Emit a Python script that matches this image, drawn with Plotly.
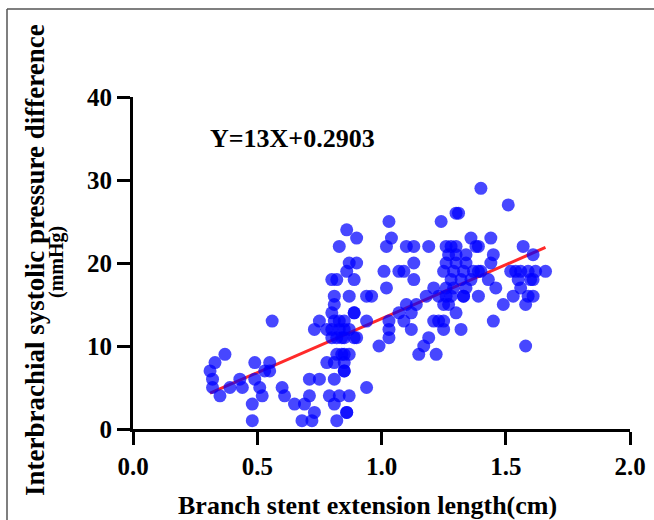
import plotly.graph_objects as go

# ---- data ----
length_cm = [
    0.31, 0.33, 0.37, 0.32, 0.32, 0.35, 0.39, 0.43, 0.44, 0.48, 0.48, 0.49, 0.49, 0.51, 0.52, 0.53,
    0.56, 0.55, 0.55, 0.60, 0.61, 0.65, 0.69, 0.68, 0.72, 0.71, 0.73, 0.71, 0.75, 0.73, 0.75,
    0.86, 0.90, 0.83, 0.87, 0.90, 0.86, 0.80, 0.82, 0.89, 0.81, 0.87, 0.94, 0.96, 0.81, 0.80,
    0.81, 0.89, 0.78, 0.80, 0.83, 0.87, 0.80, 0.84, 0.89, 0.90, 0.94, 0.99, 0.82, 0.85, 0.87,
    0.78, 0.81, 0.85, 0.85, 0.81, 0.94, 0.79, 0.83, 0.87, 0.81, 0.86, 0.82,
    0.83, 0.85, 0.82, 0.85, 0.89, 0.85, 0.86, 0.84, 0.85,
    1.03, 1.04, 1.02, 1.10, 1.13, 1.19, 1.26, 1.28, 1.30, 1.24, 1.30, 1.31, 1.27, 1.13, 1.26,
    1.30, 1.34, 1.01, 1.07, 1.09, 1.25, 1.29, 1.13, 1.28, 1.32, 1.02, 1.21, 1.26, 1.29, 1.18,
    1.23, 1.26, 1.28, 1.10, 1.14, 1.25, 1.27, 1.07, 1.12, 1.30, 1.03, 1.09, 1.21, 1.23, 1.25,
    1.03, 1.12, 1.25, 1.32, 1.03, 1.19, 1.17, 1.15, 1.22,
    1.40, 1.51, 1.36, 1.44, 1.38, 1.39, 1.57, 1.34, 1.45, 1.61, 1.44, 1.33, 1.37, 1.39, 1.40,
    1.52, 1.54, 1.56, 1.59, 1.62, 1.66, 1.36, 1.43, 1.55, 1.60, 1.61, 1.34, 1.46, 1.56, 1.33,
    1.39, 1.53, 1.59, 1.61, 1.49, 1.58, 1.45, 1.58, 1.30, 1.33,
]
pressure_diff = [
    7, 8, 9, 6, 5, 4, 5, 6, 5, 3, 1, 8, 6, 5, 4, 7,
    13, 8, 7, 5, 4, 3, 3, 1, 1, 4, 2, 6, 6, 12, 13,
    24, 23, 22, 20, 20, 19, 18, 18, 18, 16, 16, 16, 16, 15, 14,
    13, 14, 12, 12, 12, 12, 11, 11, 11, 11, 13, 10, 9, 9, 9,
    8, 8, 8, 7, 6, 5, 4, 4, 4, 3, 2, 1,
    13, 12, 11, 11, 14, 7, 2, 9, 13,
    25, 23, 22, 22, 22, 22, 22, 22, 22, 25, 26, 26, 21, 20, 20,
    20, 20, 19, 19, 19, 19, 19, 18, 18, 18, 17, 17, 17, 17, 16,
    16, 16, 16, 15, 15, 15, 15, 14, 14, 14, 13, 13, 13, 13, 13,
    12, 12, 12, 12, 11, 11, 10, 9, 9,
    29, 27, 23, 23, 22, 22, 22, 21, 21, 21, 20, 19, 19, 19, 19,
    19, 19, 19, 19, 19, 19, 18, 18, 18, 18, 18, 17, 17, 17, 16,
    16, 16, 16, 16, 15, 15, 13, 10, 21, 16,
]

slope = 13.0
intercept = 0.2903
fit_x = [min(length_cm), max(length_cm)]
fit_y = [slope * v + intercept for v in fit_x]

x_ticks = [0.0, 0.5, 1.0, 1.5, 2.0]
x_tick_labels = ["0.0", "0.5", "1.0", "1.5", "2.0"]
y_ticks = [0, 10, 20, 30, 40]
y_tick_labels = ["0", "10", "20", "30", "40"]

equation_text = "Y=13X+0.2903"
x_title = "Branch stent extension length(cm)"
y_title_1 = "Interbrachial systolic pressure difference"
y_title_2 = "(mmHg)"

# ---- figure ----
W, H = 654, 520
ML, MR, MT, MB = 133, 24, 97, 91
PW, PH = W - ML - MR, H - MT - MB


def px(xp):
    return (xp - ML) / PW


def py(yp):
    return (H - MB - yp) / PH


FONT = dict(family="Liberation Serif, Times New Roman, serif", color="black", weight="bold")

fig = go.Figure()
fig.add_trace(go.Scatter(
    x=fit_x, y=fit_y, mode="lines",
    line=dict(color="#ff2a2a", width=3),
    hoverinfo="skip", showlegend=False,
))
fig.add_trace(go.Scatter(
    x=length_cm, y=pressure_diff, mode="markers",
    marker=dict(color="rgba(0,0,255,0.72)", size=13, line=dict(width=0)),
    showlegend=False, cliponaxis=False,
))

axis_common = dict(
    showline=True, linecolor="black", linewidth=3,
    ticks="outside", ticklen=13, tickwidth=3, tickcolor="black",
    showgrid=False, zeroline=False,
    tickfont=dict(size=25, **FONT),
)
fig.update_xaxes(range=[0, 2], tickvals=x_ticks, ticktext=x_tick_labels, **axis_common)
fig.update_yaxes(range=[0, 40], tickvals=y_ticks, ticktext=y_tick_labels, **axis_common)

fig.add_annotation(text=equation_text, xref="paper", yref="paper",
                   x=px(292), y=py(138), xanchor="center", yanchor="middle",
                   showarrow=False, font=dict(size=26, **FONT))
fig.add_annotation(text=x_title, xref="paper", yref="paper",
                   x=px(367), y=py(505), xanchor="center", yanchor="middle",
                   showarrow=False, font=dict(size=26, **FONT))
fig.add_annotation(text=y_title_1, xref="paper", yref="paper", textangle=-90,
                   x=px(35), y=py(260), xanchor="center", yanchor="middle",
                   showarrow=False, font=dict(size=27, **FONT))
fig.add_annotation(text=y_title_2, xref="paper", yref="paper", textangle=-90,
                   x=px(56), y=py(262), xanchor="center", yanchor="middle",
                   showarrow=False, font=dict(size=20, **FONT))

# outer frame (cropped figure border)
fig.add_shape(type="line", xref="paper", yref="paper",
              x0=px(7), y0=py(9), x1=px(W + 10), y1=py(9),
              line=dict(color="#555555", width=1.5))
fig.add_shape(type="line", xref="paper", yref="paper",
              x0=px(7), y0=py(9), x1=px(7), y1=py(H + 10),
              line=dict(color="#555555", width=1.5))

fig.update_layout(
    width=W, height=H,
    margin=dict(l=ML, r=MR, t=MT, b=MB, autoexpand=False),
    paper_bgcolor="white", plot_bgcolor="white",
    font=FONT,
)

fig.write_html(
    "out.html",
    config={"displayModeBar": False},
    post_script="document.body.style.margin='0';document.body.style.padding='0';",
)
